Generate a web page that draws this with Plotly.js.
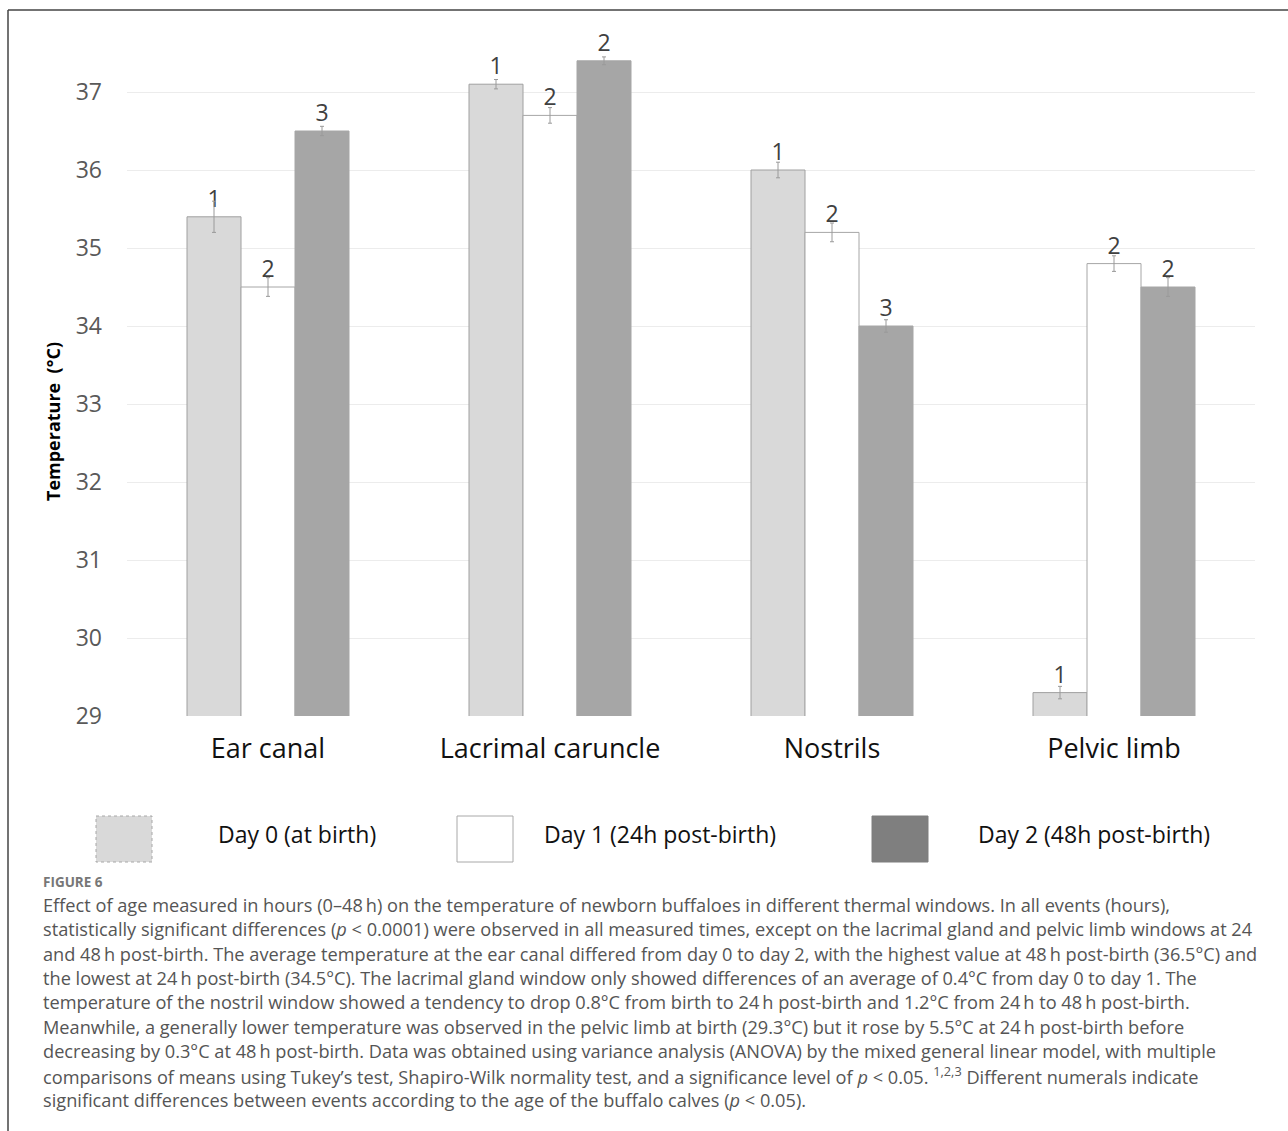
<!DOCTYPE html>
<html>
<head>
<meta charset="utf-8">
<script src="https://cdn.plot.ly/plotly-3.0.1.min.js"></script>
<style>
html,body{margin:0;padding:0;background:#fff;}
#chart{width:1288px;height:1131px;}
</style>
</head>
<body>
<div id="chart"></div>
<script>
// ---- data ----
var categories = ["Ear canal", "Lacrimal caruncle", "Nostrils", "Pelvic limb"];
var seriesNames = ["Day 0 (at birth)", "Day 1 (24h post-birth)", "Day 2 (48h post-birth)"];
var day0 = [35.4, 37.1, 36.0, 29.3];
var day1 = [34.5, 36.7, 35.2, 34.8];
var day2 = [36.5, 37.4, 34.0, 34.5];
var err0 = [0.2, 0.06, 0.1, 0.08];
var err1 = [0.12, 0.1, 0.12, 0.1];
var err2 = [0.06, 0.05, 0.08, 0.12];
var letters0 = ["1", "1", "1", "1"];
var letters1 = ["2", "2", "2", "2"];
var letters2 = ["3", "2", "3", "2"];
var yTicks = [29, 30, 31, 32, 33, 34, 35, 36, 37];
var yTitle = "Temperature  (°C)";
var figureLabel = "FIGURE 6";
var captionLines = [
  "Effect of age measured in hours (0–48\u2009h) on the temperature of newborn buffaloes in different thermal windows. In all events (hours),",
  "statistically significant differences (<i>p</i> &lt; 0.0001) were observed in all measured times, except on the lacrimal gland and pelvic limb windows at 24",
  "and 48\u2009h post-birth. The average temperature at the ear canal differed from day 0 to day 2, with the highest value at 48\u2009h post-birth (36.5°C) and",
  "the lowest at 24\u2009h post-birth (34.5°C). The lacrimal gland window only showed differences of an average of 0.4°C from day 0 to day 1. The",
  "temperature of the nostril window showed a tendency to drop 0.8°C from birth to 24\u2009h post-birth and 1.2°C from 24\u2009h to 48\u2009h post-birth.",
  "Meanwhile, a generally lower temperature was observed in the pelvic limb at birth (29.3°C) but it rose by 5.5°C at 24\u2009h post-birth before",
  "decreasing by 0.3°C at 48\u2009h post-birth. Data was obtained using variance analysis (ANOVA) by the mixed general linear model, with multiple",
  "comparisons of means using Tukey’s test, Shapiro-Wilk normality test, and a significance level of <i>p</i> &lt; 0.05. <sup>1,2,3</sup> Different numerals indicate",
  "significant differences between events according to the age of the buffalo calves (<i>p</i> &lt; 0.05)."
];

// ---- styles ----
var W = 1288, H = 1131;
var ML = 127, MR = 33, MT = 53, MB = 415;
var PW = W - ML - MR, PH = H - MT - MB;
function px(x) { return (x - ML) / PW; }
function py(y) { return (H - MB - y) / PH; }

var fills = ["#d9d9d9", "#ffffff", "#a6a6a6"];
var lines = ["#a0a0a0", "#a6a6a6", "#a6a6a6"];
var legendFills = ["#d9d9d9", "#ffffff", "#7f7f7f"];
var values = [day0, day1, day2];
var errs = [err0, err1, err2];
var letters = [letters0, letters1, letters2];

var traces = [];
for (var i = 0; i < 3; i++) {
  traces.push({
    type: "bar",
    name: seriesNames[i],
    x: categories,
    y: values[i],
    text: letters[i],
    textposition: "outside",
    cliponaxis: false,
    textfont: {family: "Open Sans, sans-serif", size: 23, color: "#404040"},
    marker: {color: fills[i], line: {color: lines[i], width: 1}},
    error_y: {type: "data", array: errs[i], visible: true, color: "#9a9a9a", thickness: 1, width: 2},
    showlegend: false,
    hoverinfo: "x+y"
  });
}

var shapes = [
  // figure frame
  {type: "line", xref: "paper", yref: "paper", x0: px(8), x1: px(1290), y0: py(10), y1: py(10), line: {color: "#444", width: 1.5}},
  {type: "line", xref: "paper", yref: "paper", x0: px(8), x1: px(8), y0: py(10), y1: py(1135), line: {color: "#444", width: 1.5}}
];
var annotations = [];
// legend
var legBoxX = [96, 457, 872];
var legTextX = [216, 542, 976];
for (var j = 0; j < 3; j++) {
  shapes.push({type: "rect", xref: "paper", yref: "paper",
    x0: px(legBoxX[j]), x1: px(legBoxX[j] + 56), y0: py(816), y1: py(862),
    fillcolor: legendFills[j], line: {color: j === 2 ? legendFills[j] : "#a8a8a8", width: 1, dash: j === 0 ? "dot" : "solid"}});
  annotations.push({xref: "paper", yref: "paper", x: px(legTextX[j]), y: py(834),
    xanchor: "left", yanchor: "middle", showarrow: false, text: seriesNames[j],
    font: {family: "Open Sans, sans-serif", size: 23, color: "#111"}});
}
// y title
annotations.push({xref: "paper", yref: "paper", x: px(53), y: py(422), textangle: -90,
  xanchor: "center", yanchor: "middle", showarrow: false, text: "<b>" + yTitle + "</b>",
  font: {family: "Open Sans, sans-serif", size: 18, color: "#000"}});
// caption
annotations.push({xref: "paper", yref: "paper", x: px(41), y: py(882),
  xanchor: "left", yanchor: "middle", showarrow: false, text: "<b>" + figureLabel + "</b>",
  font: {family: "Open Sans, sans-serif", size: 13.5, color: "#777"}});
for (var k = 0; k < captionLines.length; k++) {
  annotations.push({xref: "paper", yref: "paper", x: px(41), y: py(905 + k * 24.35),
    xanchor: "left", yanchor: "middle", showarrow: false, text: captionLines[k],
    font: {family: "Open Sans, sans-serif", size: 18.2, color: "#555"}});
}

var layout = {
  width: W, height: H,
  margin: {l: ML, r: MR, t: MT, b: MB},
  paper_bgcolor: "#fff", plot_bgcolor: "#fff",
  barmode: "group", bargap: 0.4255, bargroupgap: 0,
  font: {family: "Open Sans, sans-serif"},
  xaxis: {
    type: "category", showgrid: false, showline: false, zeroline: false, ticks: "",
    ticklabelstandoff: 14,
    tickfont: {family: "Open Sans, sans-serif", size: 27, color: "#111"}
  },
  yaxis: {
    range: [29, 37.5], tickvals: yTicks, showgrid: true, gridcolor: "#ececec", gridwidth: 1,
    zeroline: false, showline: false, ticks: "", ticklabelstandoff: 24,
    tickfont: {family: "Open Sans, sans-serif", size: 23, color: "#595959"}
  },
  shapes: shapes,
  annotations: annotations
};

Plotly.newPlot("chart", traces, layout, {displayModeBar: false, staticPlot: true});
</script>
</body>
</html>
